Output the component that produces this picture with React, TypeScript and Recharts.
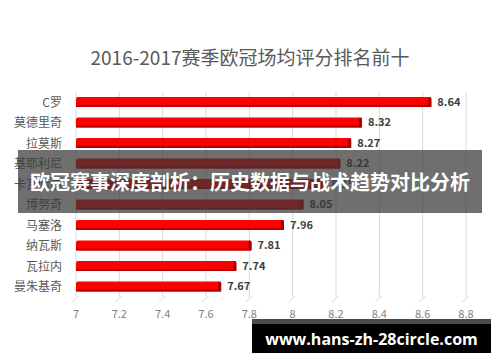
import { Bar, BarChart, CartesianGrid, LabelList, XAxis, YAxis } from 'recharts';

// 2016-2017赛季欧冠场均评分 top 10
const players = ['C罗', '莫德里奇', '拉莫斯', '基耶利尼', '卡瓦哈尔', '博努奇', '马塞洛', '纳瓦斯', '瓦拉内', '曼朱基奇'];
const ratings = [8.64, 8.32, 8.27, 8.22, 8.15, 8.05, 7.96, 7.81, 7.74, 7.67];
const xTicks = [7, 7.2, 7.4, 7.6, 7.8, 8, 8.2, 8.4, 8.6, 8.8];

const data = players.map((name, i) => ({ name, rating: ratings[i] }));

const FONT = '"Noto Sans CJK SC", "Noto Sans", sans-serif';

// 3D-ish bar: bright red face with a darker edge
const BarShape = (props: any) => {
  const { x, y, width, height } = props;
  if (!width || width <= 0) return null;
  return (
    <g>
      <rect x={x} y={y} width={width} height={height} fill="#ff0000" rx={2} />
      <rect x={x} y={y + height - 2} width={width} height={2} fill="#b80000" />
      <rect x={x + width - 3} y={y} width={3} height={height} fill="#a80000" rx={1.5} />
    </g>
  );
};

const XTick = (props: any) => {
  const { x, y, payload } = props;
  return (
    <g>
      <line x1={x - 4} y1={y - 3} x2={x + 3} y2={y - 9} stroke="#d9d9d9" />
      <text x={x} y={y + 13} textAnchor="middle" fill="#7f7f7f" fontSize={11} fontFamily={FONT}>
        {payload.value}
      </text>
    </g>
  );
};

export default function App() {
  return (
    <div style={{ position: 'fixed', left: 0, top: 0, width: 500, height: 362, background: '#fff' }}>
      <div
        style={{
          position: 'absolute', left: 0, top: 43, width: 500, textAlign: 'center',
          fontFamily: FONT, fontSize: 19, color: '#595959',
        }}
      >
        2016-2017赛季欧冠场均评分排名前十
      </div>
      <BarChart
        width={500}
        height={362}
        data={data}
        layout="vertical"
        margin={{ top: 92, right: 34, left: 0, bottom: 35 }}
        barSize={10}
      >
        <CartesianGrid horizontal={false} stroke="#d9d9d9" />
        <XAxis
          type="number"
          domain={[7, 8.8]}
          ticks={xTicks}
          axisLine={false}
          tickLine={false}
          tick={<XTick />}
          height={30}
          interval={0}
        />
        <YAxis
          type="category"
          dataKey="name"
          width={76}
          axisLine={false}
          tickLine={false}
          tickMargin={8}
          tick={{ fill: '#595959', fontSize: 12, fontFamily: FONT }}
          interval={0}
        />
        <Bar dataKey="rating" shape={<BarShape />} isAnimationActive={false}>
          <LabelList
            dataKey="rating"
            position="right"
            offset={6}
            fill="#404040"
            fontSize={11}
            fontWeight="bold"
            fontFamily={FONT}
          />
        </Bar>
      </BarChart>
      {/* overlay banner */}
      <div
        style={{
          position: 'absolute', left: 18, top: 150, width: 464, height: 63,
          background: 'rgba(55,55,55,0.72)', color: '#fff', display: 'flex',
          alignItems: 'center', justifyContent: 'center', fontFamily: FONT,
          fontSize: 20, fontWeight: 'bold', whiteSpace: 'nowrap',
        }}
      >
        欧冠赛事深度剖析：历史数据与战术趋势对比分析
      </div>
      {/* watermark */}
      <div
        style={{
          position: 'absolute', left: 252, top: 319, width: 239, height: 34,
          background: '#000', borderTop: '5px solid #4a4a4a', boxSizing: 'border-box',
          color: '#fff', display: 'flex', alignItems: 'center', justifyContent: 'center',
          fontFamily: '"Open Sans", sans-serif', fontSize: 16, fontWeight: 'bold',
        }}
      >
        www.hans-zh-28circle.com
      </div>
    </div>
  );
}
